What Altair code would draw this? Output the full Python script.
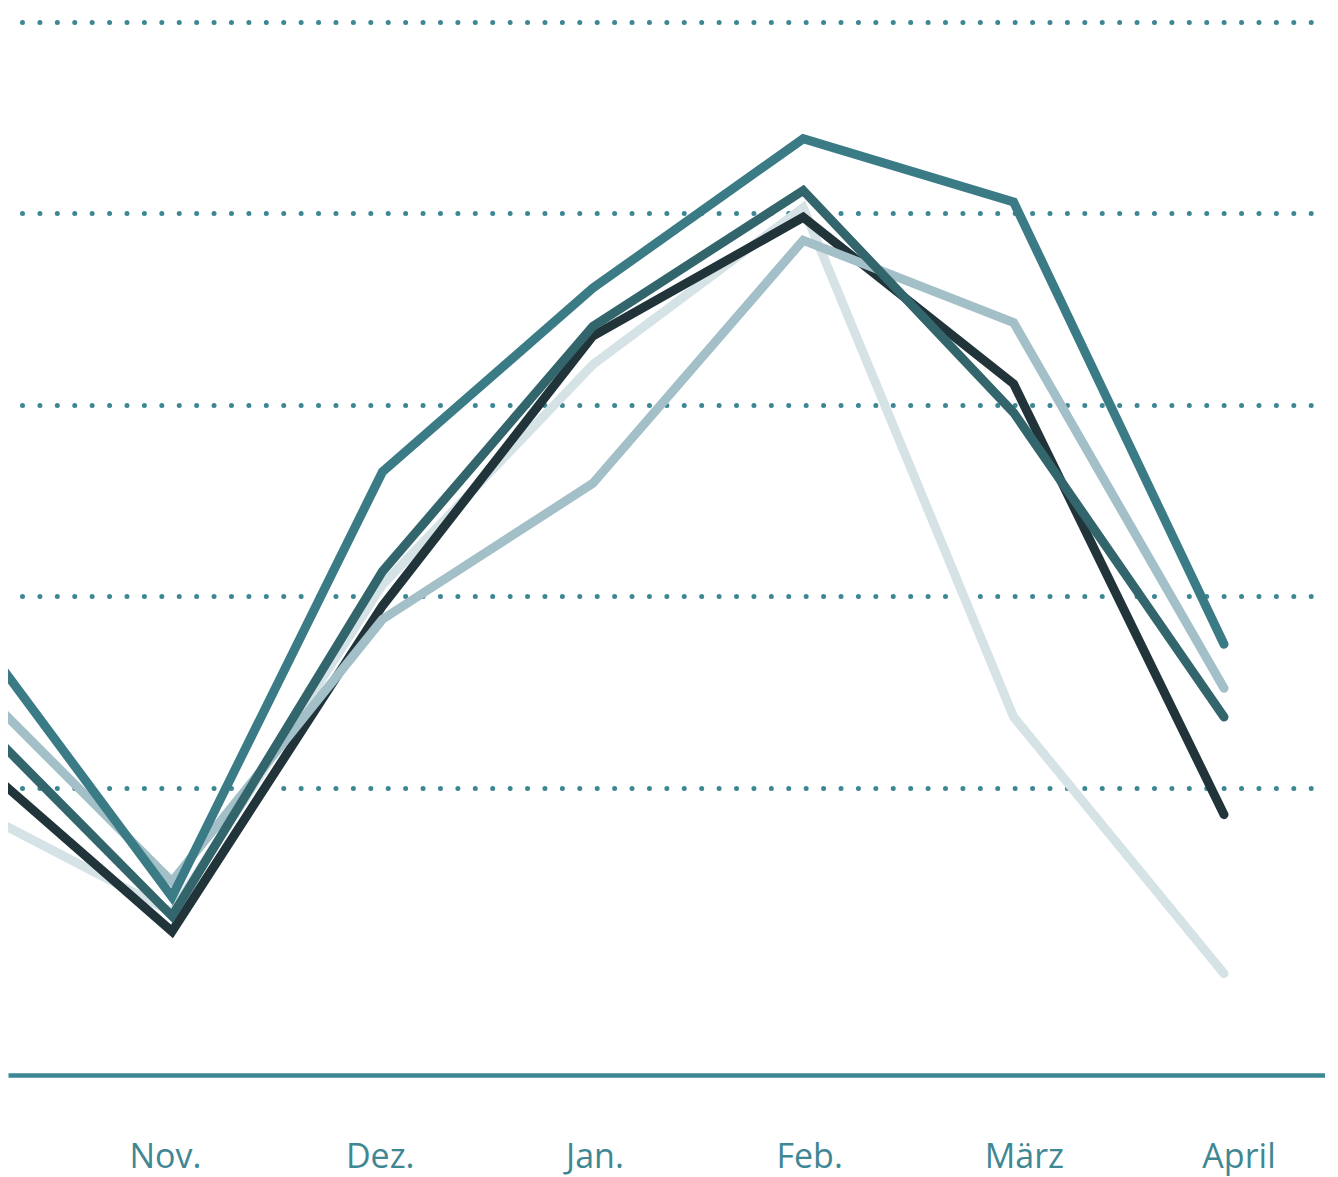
import json
import altair as alt
import pandas as pd

# --- data ---
months = ["Okt.", "Nov.", "Dez.", "Jan.", "Feb.", "März", "April"]
month_index = [0, 1, 2, 3, 4, 5, 6]

# series, listed bottom (drawn first) to top
series_names = ["Reihe E", "Reihe C", "Reihe D", "Reihe B", "Reihe A"]
reihe_e = [9.2, 3.5, 20.6, 32.1, 40.3, 13.7, 0.3]     # very light
reihe_c = [12.1, 2.5, 19.5, 33.6, 39.8, 31.1, 8.6]    # darkest
reihe_d = [16.1, 5.1, 18.8, 25.9, 38.6, 34.3, 15.2]   # grey-blue
reihe_b = [14.4, 3.3, 21.3, 34.1, 41.2, 29.6, 13.7]   # dark slate
reihe_a = [19.1, 4.3, 26.5, 36.1, 43.9, 40.6, 17.5]   # teal
series_values = [reihe_e, reihe_c, reihe_d, reihe_b, reihe_a]
series_colors = ["#d5e2e6", "#21343a", "#a3bfc7", "#33666c", "#3a7b86"]

label_months = ["Nov.", "Dez.", "Jan.", "Feb.", "März", "April"]
label_index = [1, 2, 3, 4, 5, 6]
grid_values = [10, 20, 30, 40, 50]

ACCENT = "#3d8794"

rows = []
for name, vals in zip(series_names, series_values):
    for m, i, v in zip(months, month_index, vals):
        rows.append({"serie": name, "monat": m, "idx": i, "wert": v})
df = pd.DataFrame(rows)
label_df = pd.DataFrame({"monat": label_months, "pos": label_index})

y_enc = alt.Y(
    "wert:Q",
    scale=alt.Scale(domain=[-5, 50.73], nice=False, zero=False),
    axis=alt.Axis(
        values=grid_values, grid=True, gridDash=[0, 17.415], gridDashOffset=3.415,
        gridCap="round", gridWidth=5, gridColor=ACCENT, gridOpacity=1,
        labels=False, ticks=False, domain=False, title=None,
    ),
)

layers = []
for name, color in zip(series_names, series_colors):
    layers.append(
        alt.Chart(df)
        .transform_filter(alt.datum.serie == name)
        .mark_line(color=color, strokeWidth=9, strokeCap="round",
                   strokeJoin="miter", clip=True)
        .encode(
            x=alt.X("idx:Q", scale=alt.Scale(domain=[0.2205, 6.48], nice=False, zero=False),
                    axis=None),
            y=y_enc,
            order="idx:Q",
        )
    )

label_expr = json.dumps(label_months, ensure_ascii=False) + "[datum.value - 1]"
axis_layer = alt.Chart(label_df).mark_point(opacity=0).encode(
    x=alt.X(
        "pos:Q",
        scale=alt.Scale(domain=[0.26878, 6.4026], nice=False, zero=False),
        axis=alt.Axis(
            values=label_index, labelExpr=label_expr, title=None,
            ticks=False, grid=False, domain=True, domainColor=ACCENT, domainWidth=4.5,
            labelFont="Open Sans", labelFontSize=34, labelColor="#3f8793",
            labelPadding=92, labelBaseline="alphabetic", labelFlush=False,
            labelOverlap=False, labelBound=False,
        ),
    ),
    y=alt.value(0),
)

chart = (
    alt.layer(*layers, axis_layer)
    .resolve_scale(x="independent")
    .properties(
        width=1317, height=1067,
        autosize=alt.AutoSizeParams(type="none"),
        padding={"left": 0, "top": 0, "right": 0, "bottom": 102},
        background="white",
    )
    .configure_view(stroke=None)
)

chart.save("out.html", embed_options={"renderer": "svg", "actions": False})
